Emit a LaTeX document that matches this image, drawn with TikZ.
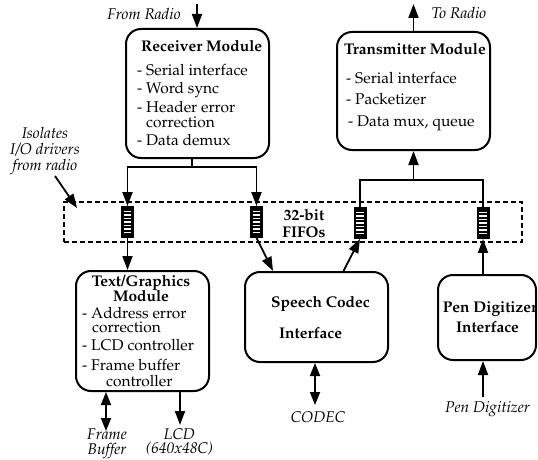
\documentclass[tikz,border=0pt]{standalone}
\usepackage[T1]{fontenc}
\usepackage{mathpazo}
\usetikzlibrary{arrows.meta,calc}
\begin{document}
\begin{tikzpicture}[x=1pt,y=-1pt,
  font=\fontsize{15.5}{16}\selectfont,
  box/.style={draw, line width=2pt, rounded corners=15pt, inner sep=0pt},
  conn/.style={line width=1.8pt, -{Triangle[length=14pt,width=10pt]}},
  dconn/.style={line width=1.8pt, {Triangle[length=13pt,width=10pt]}-{Triangle[length=13pt,width=10pt]}},
  ln/.style={line width=1.8pt},
  fifo/.style={draw, fill=black, line width=0.8pt, minimum width=12pt, minimum height=31pt, inner sep=0pt},
  txt/.style={inner sep=0pt, anchor=base west},
  ttl/.style={inner sep=0pt, anchor=base west, font=\fontsize{15.5}{16}\selectfont\bfseries},
  ttlc/.style={inner sep=0pt, anchor=base, font=\fontsize{15.5}{16}\selectfont\bfseries},
  lbl/.style={inner sep=0pt, font=\fontsize{15.5}{15}\selectfont\itshape, align=center}
]
\useasboundingbox (0,0) rectangle (538,460);

% boxes
\node[box, minimum width=143pt, minimum height=129pt] (rx) at (197.5,93.5) {};
\node[box, minimum width=153pt, minimum height=118pt] (tx) at (413.5,91) {};
\node[box, minimum width=133pt, minimum height=120pt] (tg) at (142.5,331) {};
\node[box, minimum width=143pt, minimum height=90pt] (sc) at (316.5,317) {};
\node[box, minimum width=98pt, minimum height=85pt] (pen) at (487,317.5) {};

% receiver text
\node[ttl] (rxt) at (141,52) {Receiver Module};
\node[txt] (rx1) at (137,76) {- Serial interface};
\node[txt] (rx2) at (137,93) {- Word sync};
\node[txt] (rx3) at (137,112) {- Header error};
\node[txt] (rx3b) at (146,127) {correction};
\node[txt] (rx4) at (137,145) {- Data demux};

% transmitter text
\node[ttl] (txt0) at (344,55) {Transmitter Module};
\node[txt] (tx1) at (346,83) {- Serial interface};
\node[txt] (tx2) at (346,104) {- Packetizer};
\node[txt] (tx3) at (348,126) {- Data mux, queue};

% text/graphics text
\node[ttlc] (tgt) at (141,286) {Text/Graphics};
\node[ttlc] (tgt2) at (141,301) {Module};
\node[txt] (tg1) at (82,318) {- Address error};
\node[txt] (tg1b) at (92,332) {correction};
\node[txt] (tg2) at (82,350) {- LCD controller};
\node[txt] (tg3) at (82,370) {- Frame buffer};
\node[txt] (tg3b) at (106,386) {controller};

% speech codec text
\node[ttl] (sct) at (271,307) {Speech Codec};
\node[ttl] (sct2) at (279,338) {Interface};

% pen text
\node[ttlc] (pent) at (490,312) {Pen Digitizer};
\node[ttlc] (pent2) at (487.5,332) {Interface};

% dashed FIFO band
\node[draw, dashed, dash pattern=on 5pt off 3pt, line width=1.5pt, minimum width=458pt, minimum height=40pt, inner sep=0pt] (band) at (293,222) {};
\node[inner sep=0pt, font=\fontsize{15.5}{17}\selectfont\bfseries, align=center] (fifolbl) at (304,223) {32-bit\\FIFOs};

% fifos
\foreach \n/\x/\y in {f1/127.5/222, f2/256.5/222, f3/360/223, f4/483/223}{
  \node[fifo] (\n) at (\x,\y) {};
  \foreach \k in {0.17,0.28,0.39,0.5,0.61,0.72,0.83}
    \draw[white, line width=1.2pt] ($(\n.north west)!\k!(\n.south west)+(2.5,0)$) -- ($(\n.north east)!\k!(\n.south east)+(-2.5,0)$);
}

% labels
\node[lbl] (fromradio) at (144,14) {From Radio};
\node[lbl] (toradio) at (459,13) {To Radio};
\node[lbl, font=\fontsize{15.5}{16}\selectfont\itshape] (iso) at (45,151) {Isolates\\I/O drivers\\from radio};
\node[lbl] (codec) at (318,417) {CODEC};
\node[lbl] (pendig) at (487.5,409) {Pen Digitizer};
\node[lbl] (fbuf) at (107,444) {Frame\\Buffer};
\node[lbl, font=\fontsize{15.5}{14}\selectfont\itshape] (lcdl) at (179.5,442) {LCD\\(640x48C)};

% coordinates
\coordinate (fr) at (197,4);
\coordinate (tr) at (413.5,4);
\coordinate (rj) at (192,167);
\coordinate (tj) at (413.5,180);
\coordinate (isos) at (55,176);
\coordinate (isoe) at (77,208);
\coordinate (pin) at (483,397);
\coordinate (cd) at (315,405);
\coordinate (fb) at (106,431);
\coordinate (lcd) at (180,425);

% connectors
\draw[conn] (fr) -- (fr |- rx.north);
\draw[conn] (tx.north) -- (tr);
\draw[ln] (rj |- rx.south) -- (rj);
\draw[conn] (rj) -| (f1.north);
\draw[conn] (rj) -| (f2.north);
\draw[ln] (f3.north) |- (tj) -| (f4.north);
\draw[conn] (tj) -- (tx.south);
\draw[conn] (f1.south) -- (f1.south |- tg.north);
\draw[conn] (f2.south) -- ($(sc.north west)+(29,0)$);
\draw[conn] ($(sc.north)+(27,0)$) -- (f3.south);
\draw[conn] (f4.south |- pen.north) -- (f4.south);
\draw[conn] (pin) -- (pin |- pen.south);
\draw[dconn] (cd |- sc.south) -- (cd);
\draw[dconn] (fb |- tg.south) -- (fb);
\draw[conn] (lcd |- tg.south) -- (lcd);
\draw[conn] (isos) -- (isoe);
\end{tikzpicture}
\end{document}
